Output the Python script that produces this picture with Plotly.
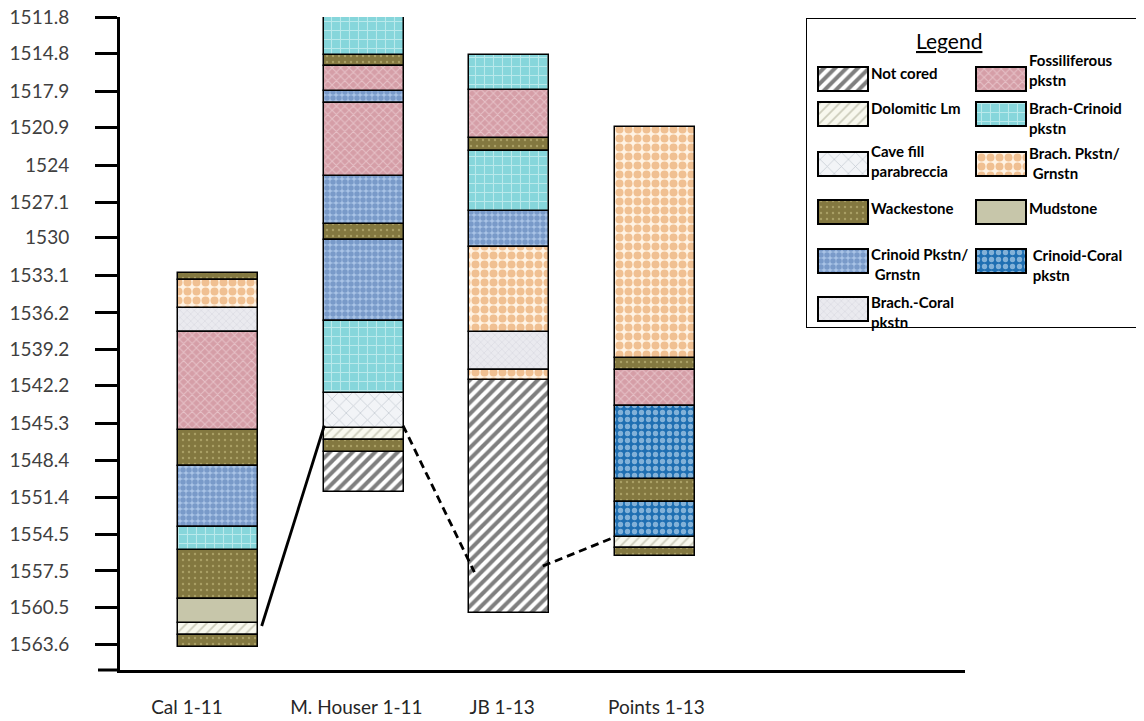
import plotly.graph_objects as go

# ---------------- DATA ----------------
wells = ["Cal 1-11", "M. Houser 1-11", "JB 1-13", "Points 1-13"]
well_pos = [1, 2, 3, 4]

depth_tick_labels = ["1511.8", "1514.8", "1517.9", "1520.9", "1524", "1527.1", "1530",
                     "1533.1", "1536.2", "1539.2", "1542.2", "1545.3", "1548.4", "1551.4",
                     "1554.5", "1557.5", "1560.5", "1563.6"]

# layer boundaries (m, top -> bottom) and lithology of each layer
cal_depths = [1532.9, 1533.45, 1535.8, 1537.8, 1545.9, 1548.8, 1553.85, 1555.8,
              1559.8, 1561.8, 1562.8, 1563.75]
cal_lith = ["Wackestone", "Brach. Pkstn/Grnstn", "Brach.-Coral pkstn", "Fossiliferous pkstn",
            "Wackestone", "Crinoid Pkstn/Grnstn", "Brach-Crinoid pkstn", "Wackestone",
            "Mudstone", "Dolomitic Lm", "Wackestone"]

mh_depths = [1511.75, 1514.9, 1515.85, 1517.9, 1518.9, 1524.9, 1528.9, 1530.2,
             1536.9, 1542.85, 1545.7, 1546.7, 1547.7, 1550.95]
mh_lith = ["Brach-Crinoid pkstn", "Wackestone", "Fossiliferous pkstn", "Crinoid Pkstn/Grnstn",
           "Fossiliferous pkstn", "Crinoid Pkstn/Grnstn", "Wackestone", "Crinoid Pkstn/Grnstn",
           "Brach-Crinoid pkstn", "Cave fill parabreccia", "Dolomitic Lm", "Wackestone",
           "Not cored"]

jb_depths = [1514.9, 1517.8, 1521.8, 1522.85, 1527.8, 1530.8, 1537.8, 1540.9, 1541.75, 1561.0]
jb_lith = ["Brach-Crinoid pkstn", "Fossiliferous pkstn", "Wackestone", "Brach-Crinoid pkstn",
           "Crinoid Pkstn/Grnstn", "Brach. Pkstn/Grnstn", "Brach.-Coral pkstn",
           "Brach. Pkstn/Grnstn", "Not cored"]

pts_depths = [1520.85, 1539.9, 1540.9, 1543.9, 1549.9, 1551.8, 1554.7, 1555.6, 1556.25]
pts_lith = ["Brach. Pkstn/Grnstn", "Wackestone", "Fossiliferous pkstn", "Crinoid-Coral pkstn",
            "Wackestone", "Crinoid-Coral pkstn", "Dolomitic Lm", "Wackestone"]

well_depths = [cal_depths, mh_depths, jb_depths, pts_depths]
well_liths = [cal_lith, mh_lith, jb_lith, pts_lith]

# correlation lines: (well-position, depth) pairs
corr_solid_x = [1.30, 1.73]
corr_solid_d = [1562.05, 1545.5]
corr_dash1_x = [2.27, 2.76]
corr_dash1_d = [1545.5, 1557.6]
corr_dash2_x = [3.23, 3.725]
corr_dash2_d = [1557.1, 1554.7]

# legend entries (two columns)
legend_left = ["Not cored", "Dolomitic Lm", "Cave fill parabreccia", "Wackestone",
               "Crinoid Pkstn/Grnstn", "Brach.-Coral pkstn"]
legend_left_text = ["Not cored", "Dolomitic Lm", "Cave fill<br>parabreccia", "Wackestone",
                    "Crinoid Pkstn/<br>\u00a0Grnstn", "Brach.-Coral<br>pkstn"]
legend_right = ["Fossiliferous pkstn", "Brach-Crinoid pkstn", "Brach. Pkstn/Grnstn",
                "Mudstone", "Crinoid-Coral pkstn"]
legend_right_text = ["Fossiliferous<br>pkstn", "Brach-Crinoid<br>pkstn", "Brach. Pkstn/<br>\u00a0Grnstn",
                     "Mudstone", "\u00a0Crinoid-Coral<br>\u00a0pkstn"]

# ---------------- STYLES ----------------
STYLES = {
    "Not cored":             dict(bg="#ffffff", fg="#000000", shape="/", size=8, sol=0.5),
    "Dolomitic Lm":          dict(bg="#f8f8ee", fg="#a0a088", shape="/", size=7, sol=0.25),
    "Cave fill parabreccia": dict(bg="#f2f4f7", fg="#9aa5b1", shape="x", size=10, sol=0.15),
    "Wackestone":            dict(bg="#837840", fg="#cfc78a", shape=".", size=6, sol=0.12),
    "Crinoid Pkstn/Grnstn":  dict(bg="#a9c3e6", fg="#4a72ab", shape=".", size=6, sol=0.65),
    "Brach.-Coral pkstn":    dict(bg="#eaeaef", fg="#c4c4ce", shape="x", size=5, sol=0.2),
    "Fossiliferous pkstn":   dict(bg="#d59ea7", fg="#f6e4e7", shape="x", size=6, sol=0.3),
    "Brach-Crinoid pkstn":   dict(bg="#86d6db", fg="#ecfbfb", shape="+", size=9, sol=0.22),
    "Brach. Pkstn/Grnstn":   dict(bg="#fff3e4", fg="#e28d40", shape=".", size=9, sol=0.62),
    "Mudstone":              dict(bg="#c7c6aa", fg="#c7c6aa", shape="", size=6, sol=0.3),
    "Crinoid-Coral pkstn":   dict(bg="#1f6fb2", fg="#e6f4fd", shape=".", size=7, sol=0.45),
}

# page body has an 8px margin: build the figure in window pixels shifted by it
OFF = 8
W, H = 1144 - OFF, 721 - OFF
plot_l, plot_r, plot_t, plot_b = 120 - OFF, 965 - OFF, 17 - OFF, 670 - OFF
tick_len = 22
col_width = 0.55
x_range = [0.3273, 6.128]
y_range = [1565.68, 1511.78]
label_offsets = [-0.213, -0.05, -0.05, 0.01]

fig = go.Figure()


def marker_for(lith, outline=1.5):
    s = STYLES[lith]
    return dict(color=s["bg"], line=dict(color="#000000", width=outline),
                pattern=dict(shape=s["shape"], fgcolor=s["fg"], bgcolor=s["bg"],
                             size=s["size"], solidity=s["sol"], fillmode="overlay"))


# stratigraphic columns: one trace per lithology
for lith in STYLES:
    xs, bases, ys = [], [], []
    for pos, depths, liths in zip(well_pos, well_depths, well_liths):
        for i, l in enumerate(liths):
            if l == lith:
                xs.append(pos)
                bases.append(depths[i])
                ys.append(depths[i + 1] - depths[i])
    if xs:
        fig.add_trace(go.Bar(x=xs, y=ys, base=bases, width=col_width, name=lith,
                             marker=marker_for(lith), showlegend=False,
                             xaxis="x", yaxis="y", hoverinfo="name"))

# correlation lines
for xs, ds, dash in [(corr_solid_x, corr_solid_d, "solid"),
                     (corr_dash1_x, corr_dash1_d, "8px,5px"),
                     (corr_dash2_x, corr_dash2_d, "8px,5px")]:
    fig.add_trace(go.Scatter(x=xs, y=ds, mode="lines", showlegend=False,
                             line=dict(color="#000000", width=2.8, dash=dash),
                             xaxis="x", yaxis="y", hoverinfo="skip"))

# custom legend (second invisible axis in reference-pixel units)
leg_box = [806, 1142, 18, 328]
left_sw_x, right_sw_x, sw_w, sw_h = 843, 1001, 50, 24
row_tops = [67, 102, 152, 200, 249, 297]
left_text_y = [73, 108, 161, 208, 264, 312]
right_text_y = [70, 118, 163, 208, 265]

annotations = []
for names, texts, sx, tys in [(legend_left, legend_left_text, left_sw_x, left_text_y),
                              (legend_right, legend_right_text, right_sw_x, right_text_y)]:
    for i, (nm, tx) in enumerate(zip(names, texts)):
        fig.add_trace(go.Bar(x=[sx], y=[sw_h], base=[row_tops[i]], width=sw_w,
                             marker=marker_for(nm, 2), showlegend=False,
                             xaxis="x2", yaxis="y2", hoverinfo="skip"))
        annotations.append(dict(x=sx + sw_w / 2 + 1, y=tys[i], xref="x2", yref="y2",
                                text=tx, showarrow=False, xanchor="left", yanchor="middle",
                                align="left",
                                font=dict(family="Lato", size=15, color="#000000",
                                          weight="bold")))
annotations.append(dict(x=949, y=40, xref="x2", yref="y2", text="<u>Legend</u>",
                        showarrow=False, xanchor="center", yanchor="middle",
                        font=dict(family="Lato", size=21, color="#000000")))

y_dom = [(H - plot_b) / H, (H - plot_t) / H]
shapes = [
    dict(type="rect", xref="x2", yref="y2", x0=leg_box[0], x1=leg_box[1],
         y0=leg_box[2], y1=leg_box[3], line=dict(color="#000000", width=2),
         fillcolor="rgba(0,0,0,0)", layer="above"),
    # base of the depth axis extends left like the ticks
    dict(type="line", xref="paper", yref="paper", x0=(plot_l - tick_len) / W, x1=plot_l / W,
         y0=y_dom[0], y1=y_dom[0], line=dict(color="#000000", width=3), layer="above"),
]

tick_vals = [float(t) for t in depth_tick_labels]

fig.update_layout(
    width=W, height=H,
    margin=dict(l=0, r=0, t=0, b=0),
    paper_bgcolor="#ffffff", plot_bgcolor="rgba(0,0,0,0)",
    barmode="overlay", bargap=0,
    showlegend=False,
    xaxis=dict(domain=[plot_l / W, plot_r / W], range=x_range, showgrid=False,
               zeroline=False, showline=True, linecolor="#000000", linewidth=3,
               tickvals=[p + o for p, o in zip(well_pos, label_offsets)], ticktext=wells,
               ticks="", ticklabelstandoff=18, automargin=False, ticklabeloverflow="allow",
               tickfont=dict(family="Lato", size=19, color="#262626")),
    yaxis=dict(domain=y_dom, range=y_range, showgrid=False,
               zeroline=False, showline=True, linecolor="#000000", linewidth=3,
               tickvals=tick_vals, ticktext=depth_tick_labels, ticks="outside", ticklen=tick_len,
               tickwidth=3, tickcolor="#000000", ticklabelstandoff=22, automargin=False,
               ticklabeloverflow="allow",
               tickfont=dict(family="Lato", size=19, color="#404040")),
    xaxis2=dict(domain=[(leg_box[0] - OFF) / W, (leg_box[1] - OFF) / W],
                range=[leg_box[0], leg_box[1]], visible=False, anchor="y2"),
    yaxis2=dict(domain=[(H - (leg_box[3] - OFF)) / H, (H - (leg_box[2] - OFF)) / H],
                range=[leg_box[3], leg_box[2]], visible=False, anchor="x2"),
    annotations=annotations,
    shapes=shapes,
)

fig.write_html("out.html")
